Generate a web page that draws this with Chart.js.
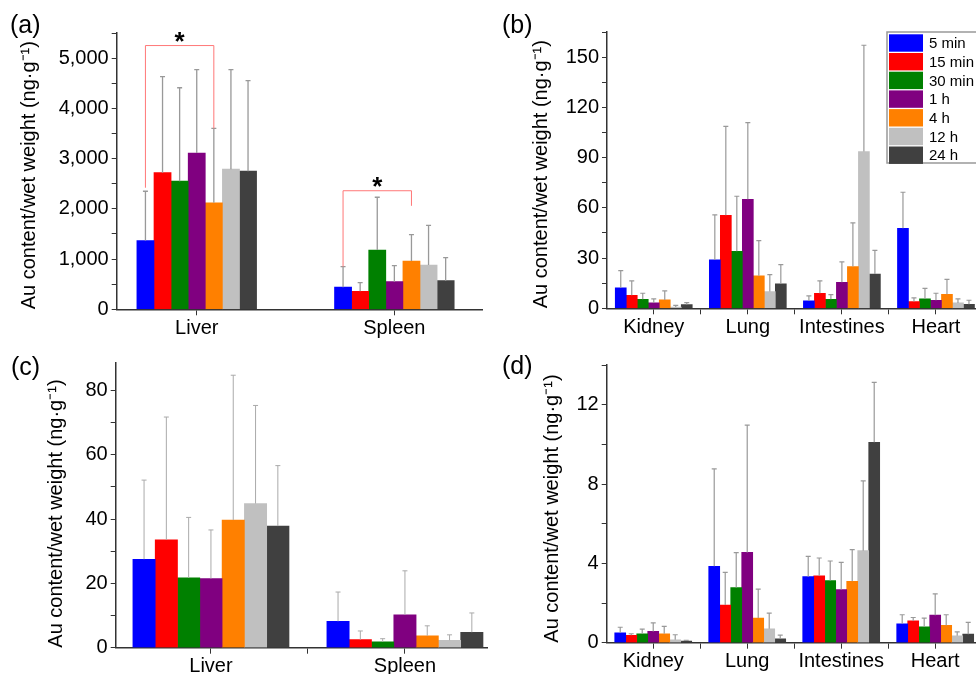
<!DOCTYPE html>
<html>
<head>
<meta charset="utf-8">
<script src="https://cdn.jsdelivr.net/npm/chart.js@4.4.0/dist/chart.umd.min.js"></script>
<style>
  html, body { margin: 0; padding: 0; background: #fff; overflow: hidden; width: 976px; height: 674px; }
  canvas { position: absolute; }
  .tag { position: absolute; font: 25px "Liberation Sans", Arial, sans-serif; line-height: 25px; color: #000; }
</style>
</head>
<body>
<canvas id="chartA" width="490" height="340" style="left:0;top:0"></canvas>
<canvas id="chartB" width="500" height="340" style="left:490px;top:0"></canvas>
<canvas id="chartC" width="490" height="344" style="left:0;top:330px"></canvas>
<canvas id="chartD" width="500" height="344" style="left:490px;top:330px"></canvas>
<div class="tag" style="left:10px;top:12px">(a)</div>
<div class="tag" style="left:502px;top:12px">(b)</div>
<div class="tag" style="left:11px;top:354px">(c)</div>
<div class="tag" style="left:502px;top:353px">(d)</div>
<script>
// time points (one bar per time point in every group)
var times = ['5 min', '15 min', '30 min', '1 h', '4 h', '12 h', '24 h'];
var barColors = ['#0000ff', '#ff0000', '#008000', '#800080', '#ff8000', '#c0c0c0', '#404040'];

// (a) Liver / Spleen, big scale
var organsA = ['Liver', 'Spleen'];
var aLiverMean = [1370, 2720, 2550, 3110, 2120, 2790, 2750];
var aLiverSd = [980, 1910, 1860, 1660, 1480, 1980, 1800];
var aSpleenMean = [440, 360, 1180, 550, 960, 880, 570];
var aSpleenSd = [410, 170, 1050, 320, 525, 790, 460];

// significance brackets in (a): group, from series, to series, bracket level, leg ends
var sigGroup = [0, 1];
var sigFrom = [0, 0];
var sigTo = [4, 4];
var sigTop = [5250, 2360];
var sigLeftEnd = [2420, 850];
var sigRightEnd = [3600, 2060];

// (b) other organs
var organsB = ['Kidney', 'Lung', 'Intestines', 'Heart'];
var bKidneyMean = [12.2, 7.8, 5.4, 3.2, 5.0, 0.8, 2.2];
var bKidneySd = [10.3, 8.6, 3.6, 2.4, 5.4, 1.0, 1.2];
var bLungMean = [28.9, 55.5, 34.0, 65.1, 19.4, 10.0, 14.6];
var bLungSd = [26.9, 53.2, 32.9, 45.8, 21.0, 10.1, 11.5];
var bIntestinesMean = [4.4, 9.0, 5.4, 15.5, 24.9, 93.6, 20.5];
var bIntestinesSd = [3.0, 7.4, 2.8, 12.2, 26.1, 63.5, 14.1];
var bHeartMean = [47.8, 4.0, 5.6, 4.8, 8.4, 3.2, 2.4];
var bHeartSd = [21.5, 2.2, 6.3, 4.2, 8.9, 2.4, 2.4];

// (c) Liver / Spleen, small scale
var organsC = ['Liver', 'Spleen'];
var cLiverMean = [27.5, 33.5, 21.7, 21.5, 39.7, 44.8, 37.8];
var cLiverSd = [24.6, 38.2, 18.8, 15.1, 45.0, 30.5, 18.8];
var cSpleenMean = [8.2, 2.5, 1.8, 10.2, 3.7, 2.3, 4.8];
var cSpleenSd = [9.1, 2.7, 1.0, 13.7, 3.1, 1.7, 6.0];

// (d) other organs, small scale
var organsD = ['Kidney', 'Lung', 'Intestines', 'Heart'];
var dKidneyMean = [0.50, 0.37, 0.45, 0.57, 0.45, 0.15, 0.08];
var dKidneySd = [0.28, 0.08, 0.23, 0.43, 0.37, 0.25, 0.04];
var dLungMean = [3.85, 1.90, 2.78, 4.55, 1.24, 0.70, 0.20];
var dLungSd = [4.91, 1.65, 1.76, 6.42, 1.46, 0.79, 0.18];
var dIntestinesMean = [3.33, 3.37, 3.13, 2.68, 3.10, 4.64, 10.1];
var dIntestinesSd = [1.02, 0.90, 0.99, 1.37, 1.59, 3.52, 3.02];
var dHeartMean = [0.95, 1.10, 0.80, 1.39, 0.87, 0.35, 0.43];
var dHeartSd = [0.46, 0.17, 0.44, 1.07, 0.54, 0.20, 0.59];

var yTitle = 'Au content/wet weight (ng\u00b7g\u207b\u00b9)';
Chart.defaults.font.family = '"Liberation Sans", Arial, sans-serif';
Chart.defaults.color = '#000';

// upward error bars from the dataset's errs array
var errorBars = {
  id: 'errorBars',
  afterDatasetsDraw: function(chart, args, opts) {
    var ctx = chart.ctx, yScale = chart.scales.y;
    ctx.save();
    ctx.strokeStyle = opts.color;
    ctx.lineWidth = opts.width;
    chart.data.datasets.forEach(function(ds, i) {
      chart.getDatasetMeta(i).data.forEach(function(bar, k) {
        var top = yScale.getPixelForValue(ds.data[k].y + ds.errs[k]);
        ctx.beginPath();
        ctx.moveTo(bar.x, bar.y);
        ctx.lineTo(bar.x, top);
        ctx.moveTo(bar.x - opts.cap, top);
        ctx.lineTo(bar.x + opts.cap, top);
        ctx.stroke();
      });
    });
    ctx.restore();
  }
};

// red brackets with a star
var sigBrackets = {
  id: 'sigBrackets',
  afterDatasetsDraw: function(chart) {
    var ctx = chart.ctx, y = chart.scales.y;
    ctx.save();
    for (var i = 0; i < sigGroup.length; i++) {
      var xL = chart.getDatasetMeta(sigFrom[i]).data[sigGroup[i]].x;
      var xR = chart.getDatasetMeta(sigTo[i]).data[sigGroup[i]].x;
      var yT = y.getPixelForValue(sigTop[i]);
      ctx.strokeStyle = '#ff7777';
      ctx.lineWidth = 1;
      ctx.beginPath();
      ctx.moveTo(xL, y.getPixelForValue(sigLeftEnd[i]));
      ctx.lineTo(xL, yT);
      ctx.lineTo(xR, yT);
      ctx.lineTo(xR, y.getPixelForValue(sigRightEnd[i]));
      ctx.stroke();
      ctx.fillStyle = '#000';
      ctx.font = 'bold 26px "Liberation Sans", Arial, sans-serif';
      ctx.textAlign = 'center';
      ctx.textBaseline = 'alphabetic';
      ctx.fillText('*', (xL + xR) / 2, yT + 4);
    }
    ctx.restore();
  }
};

// legend box drawn inside panel (b)
var legendBox = {
  id: 'legendBox',
  afterDraw: function(chart, args, o) {
    var ctx = chart.ctx;
    ctx.save();
    ctx.fillStyle = '#fff';
    ctx.fillRect(o.x, o.y, o.w, o.h);
    ctx.strokeStyle = '#999';
    ctx.lineWidth = 1.5;
    ctx.strokeRect(o.x, o.y, o.w, o.h);
    ctx.font = '15px "Liberation Sans", Arial, sans-serif';
    ctx.textBaseline = 'middle';
    chart.data.datasets.forEach(function(ds, i) {
      var top = o.y + 2.3 + i * o.row;
      ctx.fillStyle = ds.backgroundColor;
      ctx.fillRect(o.x + 2, top, 34, o.row - 1.3);
      ctx.fillStyle = '#000';
      ctx.fillText(ds.label, o.x + 42, top + (o.row - 1.3) / 2 + 1);
    });
    ctx.restore();
  }
};

function makePanel(id, cats, means, sds, o) {
  var datasets = times.map(function(t, i) {
    return {
      label: t,
      data: cats.map(function(c, k) { return { x: k + 1, y: means[k][i] }; }),
      errs: cats.map(function(c, k) { return sds[k][i]; }),
      backgroundColor: barColors[i],
      borderWidth: 0,
      barThickness: o.barW
    };
  });
  var tickVals = [];
  cats.forEach(function(c, k) {
    tickVals.push(k + 1);
    if (o.between && k < cats.length - 1) tickVals.push(k + 1.5);
  });
  if (o.between && o.xMax > cats.length + 0.5) tickVals.push(cats.length + 0.5);
  var pluginOpts = {
    legend: { display: false },
    tooltip: { enabled: false },
    errorBars: o.err
  };
  if (o.legend) pluginOpts.legendBox = o.legend;
  return new Chart(document.getElementById(id), {
    type: 'bar',
    data: { datasets: datasets },
    options: {
      responsive: false,
      animation: false,
      layout: { padding: { left: 0, top: o.padTop, right: o.padRight, bottom: 0 } },
      plugins: pluginOpts,
      scales: {
        x: {
          type: 'linear', min: o.xMin, max: o.xMax, offset: false,
          grid: { offset: false, drawOnChartArea: false, color: '#333', tickLength: 6 },
          border: { color: '#333', width: 1.5 },
          afterBuildTicks: function(s) { s.ticks = tickVals.map(function(v) { return { value: v }; }); },
          afterFit: function(s) { s.height = o.xH; },
          ticks: {
            autoSkip: false, maxRotation: 0, padding: 1, font: { size: 20 }, color: '#000',
            callback: function(v) { return Number.isInteger(v) ? cats[v - 1] : ''; }
          }
        },
        y: {
          min: 0, max: o.yMax,
          grid: { drawOnChartArea: false, color: '#333', tickLength: 5 },
          border: { color: '#333', width: 1.5 },
          afterFit: function(s) { s.width = o.yW; },
          ticks: {
            stepSize: o.minor, includeBounds: false, autoSkip: false, padding: 3,
            font: { size: 20 }, color: '#000',
            callback: function(v) { return v % o.major === 0 ? v.toLocaleString('en-US') : ''; }
          },
          title: {
            display: true, text: yTitle, align: 'start', font: { size: 20 }, color: '#000',
            padding: { top: o.titlePad, bottom: 0 }
          }
        }
      }
    },
    plugins: [errorBars, legendBox].concat(o.extra || [])
  });
}

makePanel('chartA', organsA, [aLiverMean, aSpleenMean], [aLiverSd, aSpleenSd], {
  yW: 116.7, padTop: 33, padRight: 7.7, xH: 30.7, xMin: 0.595, xMax: 2.445,
  yMax: 5500, minor: 500, major: 1000, barW: 17.1, between: false, titlePad: 17.5,
  err: { color: '#999', width: 1.3, cap: 2.5 }, extra: [sigBrackets]
});

makePanel('chartB', organsB, [bKidneyMean, bLungMean, bIntestinesMean, bHeartMean],
  [bKidneySd, bLungSd, bIntestinesSd, bHeartSd], {
  yW: 117, padTop: 32, padRight: 7, xH: 31.7, xMin: 0.503, xMax: 4.5,
  yMax: 165, minor: 15, major: 30, barW: 11, between: true, titlePad: 39,
  err: { color: '#999', width: 1.2, cap: 2.5 },
  legend: { x: 397, y: 32, w: 120, h: 131, row: 18.7 }
});

makePanel('chartC', organsC, [cLiverMean, cSpleenMean], [cLiverSd, cSpleenSd], {
  yW: 115.7, padTop: 33, padRight: 3, xH: 26.3, xMin: 0.509, xMax: 2.423,
  yMax: 88.5, minor: 10, major: 20, barW: 22.3, between: true, titlePad: 44,
  err: { color: '#aaa', width: 1, cap: 2.5 }
});

makePanel('chartD', organsD, [dKidneyMean, dLungMean, dIntestinesMean, dHeartMean],
  [dKidneySd, dLungSd, dIntestinesSd, dHeartSd], {
  yW: 116.7, padTop: 35, padRight: 7.8, xH: 31.3, xMin: 0.505, xMax: 4.5,
  yMax: 14, minor: 2, major: 4, barW: 11, between: true, titlePad: 50,
  err: { color: '#999', width: 1.2, cap: 2.5 }
});
</script>
</body>
</html>
